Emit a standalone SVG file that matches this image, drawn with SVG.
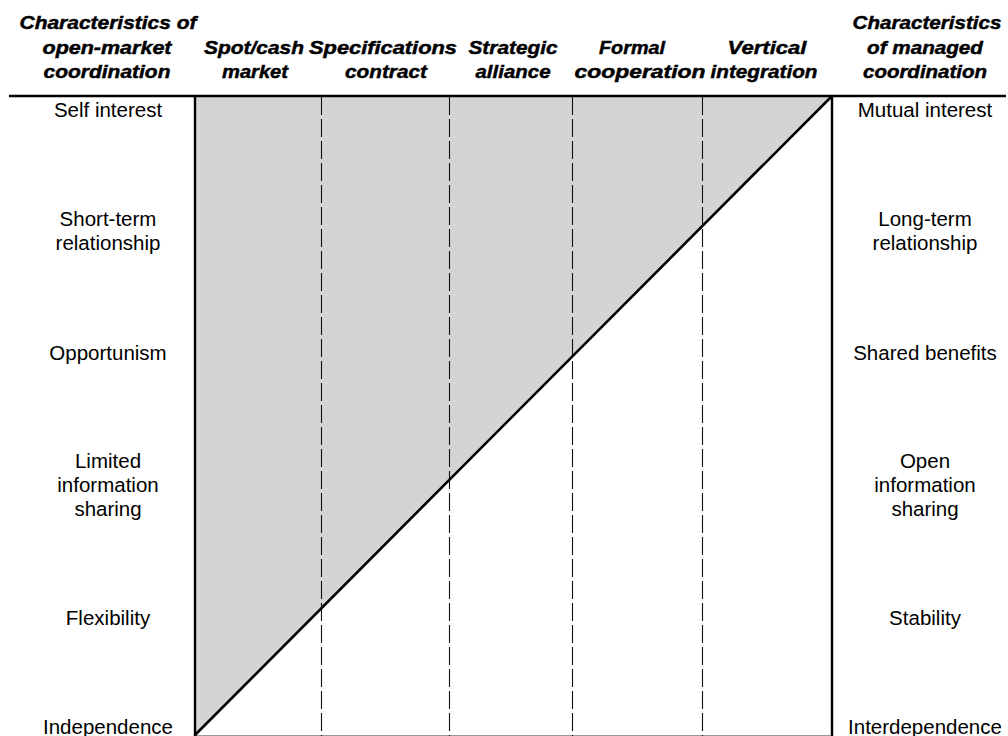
<svg xmlns="http://www.w3.org/2000/svg" width="1008" height="736" viewBox="0 0 1008 736">
<style>
.h{font-family:"Liberation Sans",Arial,sans-serif;font-weight:bold;font-style:italic;font-size:18px;fill:#000;stroke:#000;stroke-width:0.45;text-anchor:middle}
.t{font-family:"Liberation Sans",Arial,sans-serif;font-size:20.5px;fill:#000;text-anchor:middle}
.dash{stroke:#111;stroke-width:1.1;stroke-dasharray:18 4;fill:none}
</style>
<rect width="1008" height="736" fill="#fff"/>
<g id="chart">
<polygon points="195,96 832,96 195,735" fill="#d4d4d4"/>
<line x1="195" y1="735.5" x2="832" y2="735.5" stroke="#999" stroke-width="1"/>
</g>
<g id="connectors">
<line class="dash" x1="321.5" y1="97" x2="321.5" y2="736"/>
<line class="dash" x1="449.5" y1="97" x2="449.5" y2="736"/>
<line class="dash" x1="572.5" y1="97" x2="572.5" y2="736"/>
<line class="dash" x1="702.5" y1="97" x2="702.5" y2="736"/>
<line x1="195" y1="735" x2="832" y2="96" stroke="#000" stroke-width="2.6"/>
<line x1="195" y1="96" x2="195" y2="736" stroke="#000" stroke-width="2.4"/>
<line x1="832" y1="96" x2="832" y2="736" stroke="#000" stroke-width="2.4"/>
<line x1="9" y1="96" x2="1006" y2="96" stroke="#000" stroke-width="2.6"/>
</g>
<g id="header-left">
<text class="h" x="108" y="29" textLength="177" lengthAdjust="spacingAndGlyphs">Characteristics of</text>
<text class="h" x="107" y="54" textLength="129" lengthAdjust="spacingAndGlyphs">open-market</text>
<text class="h" x="107" y="78" textLength="127" lengthAdjust="spacingAndGlyphs">coordination</text>
</g>
<g id="header-spot">
<text class="h" x="254" y="54" textLength="100" lengthAdjust="spacingAndGlyphs">Spot/cash</text>
<text class="h" x="255" y="78" textLength="66" lengthAdjust="spacingAndGlyphs">market</text>
</g>
<g id="header-spec">
<text class="h" x="383" y="54" textLength="148" lengthAdjust="spacingAndGlyphs">Specifications</text>
<text class="h" x="386" y="78" textLength="82" lengthAdjust="spacingAndGlyphs">contract</text>
</g>
<g id="header-strategic">
<text class="h" x="513" y="54" textLength="89" lengthAdjust="spacingAndGlyphs">Strategic</text>
<text class="h" x="513" y="78" textLength="75" lengthAdjust="spacingAndGlyphs">alliance</text>
</g>
<g id="header-formal">
<text class="h" x="632" y="54" textLength="66" lengthAdjust="spacingAndGlyphs">Formal</text>
<text class="h" x="640" y="78" textLength="131" lengthAdjust="spacingAndGlyphs">cooperation</text>
</g>
<g id="header-vertical">
<text class="h" x="767" y="54" textLength="79" lengthAdjust="spacingAndGlyphs">Vertical</text>
<text class="h" x="764" y="78" textLength="107" lengthAdjust="spacingAndGlyphs">integration</text>
</g>
<g id="header-right">
<text class="h" x="927" y="29" textLength="149" lengthAdjust="spacingAndGlyphs">Characteristics</text>
<text class="h" x="925" y="54" textLength="116" lengthAdjust="spacingAndGlyphs">of managed</text>
<text class="h" x="925" y="78" textLength="124" lengthAdjust="spacingAndGlyphs">coordination</text>
</g>
<g id="left-labels">
<text class="t" x="108" y="117">Self interest</text>
<text class="t" x="108" y="226">Short-term</text>
<text class="t" x="108" y="250">relationship</text>
<text class="t" x="108" y="360">Opportunism</text>
<text class="t" x="108" y="468">Limited</text>
<text class="t" x="108" y="492">information</text>
<text class="t" x="108" y="516">sharing</text>
<text class="t" x="108" y="625">Flexibility</text>
<text class="t" x="108" y="734">Independence</text>
</g>
<g id="right-labels">
<text class="t" x="925" y="117">Mutual interest</text>
<text class="t" x="925" y="226">Long-term</text>
<text class="t" x="925" y="250">relationship</text>
<text class="t" x="925" y="360">Shared benefits</text>
<text class="t" x="925" y="468">Open</text>
<text class="t" x="925" y="492">information</text>
<text class="t" x="925" y="516">sharing</text>
<text class="t" x="925" y="625">Stability</text>
<text class="t" x="925" y="734">Interdependence</text>
</g>
</svg>
